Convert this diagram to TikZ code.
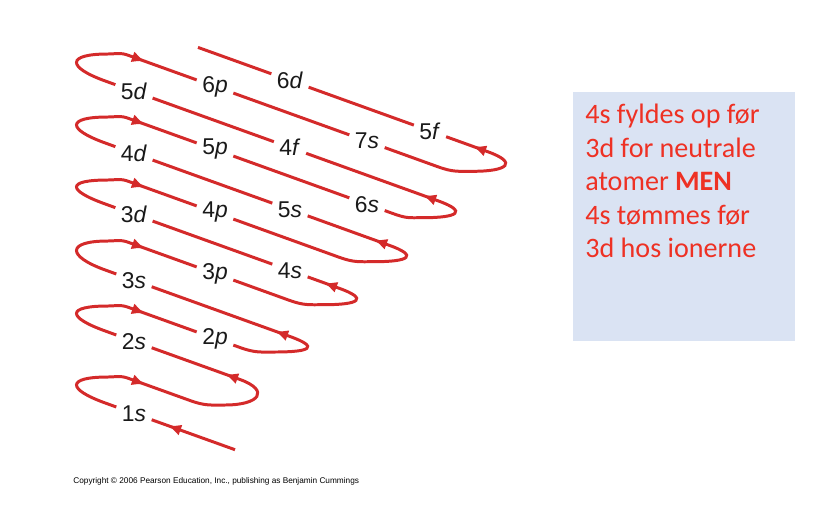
\documentclass[tikz,border=0pt]{standalone}
\usepackage{fontspec}
\setmainfont{Liberation Sans}
\newfontfamily\notefont{Carlito}
\usetikzlibrary{arrows.meta}

\definecolor{trailred}{HTML}{D42A2A}
\definecolor{notered}{HTML}{EE3124}
\definecolor{noteblue}{HTML}{DAE3F3}

\begin{document}
\begin{tikzpicture}[
  x=0.2mm, y=-0.2mm,
  orb/.style={inner sep=3pt, text=black!90, font=\fontsize{13}{14}\selectfont},
  trail/.style={draw=trailred, line width=1.7pt},
  arr/.style={trail, -{Latex[length=7.5pt,width=6.5pt]}},
  note/.style={anchor=north west, inner sep=0pt, align=left, text=notered,
    font=\notefont\fontsize{16}{19}\selectfont}
]
\useasboundingbox (0,0) rectangle (820,526);
%% ─── Orbital labels ────────────────────────────────────────────────────────
\node[orb] (s1) at (134,413.4) {1\textit{s}};
\node[orb] (s2) at (134,341.4) {2\textit{s}};
\node[orb] (p2) at (215,338.5) {2\textit{p}};
\node[orb] (s3) at (134,280.4) {3\textit{s}};
\node[orb] (p3) at (215,273.5) {3\textit{p}};
\node[orb] (s4) at (290,270.5) {4\textit{s}};
\node[orb] (d3) at (134,214.4) {3\textit{d}};
\node[orb] (p4) at (215,212.5) {4\textit{p}};
\node[orb] (s5) at (290,209.5) {5\textit{s}};
\node[orb] (d4) at (134,153.4) {4\textit{d}};
\node[orb] (p5) at (215,149.5) {5\textit{p}};
\node[orb] (s6) at (367,204.2) {6\textit{s}};
\node[orb] (f4) at (290,147.5) {4\textit{f}};
\node[orb] (d5) at (134,91.4)  {5\textit{d}};
\node[orb] (p6) at (215,86.5)  {6\textit{p}};
\node[orb] (s7) at (367,141.2) {7\textit{s}};
\node[orb] (f5) at (430,130.9) {5\textit{f}};
\node[orb] (d6) at (290,80.5)  {6\textit{d}};
%% ─── Free ends and arrow tips ──────────────────────────────────────────────
\coordinate (start) at (235,449.7);
\coordinate (stop)  at (198,47.4);
\coordinate (h0) at (168,425.6);
\coordinate (l1) at (145,384.3);
\coordinate (l2) at (145,313.3);
\coordinate (l3) at (145,248.3);
\coordinate (l4) at (145,187.3);
\coordinate (l5) at (145,124.3);
\coordinate (l6) at (145,61.3);
\coordinate (r1) at (225,374.1);
\coordinate (r2) at (275,331.1);
\coordinate (r3) at (324,282.8);
\coordinate (r4) at (374,239.8);
\coordinate (r5) at (423,195.4);
\coordinate (r6) at (473,146.4);
%% ─── Filling order ─────────────────────────────────────────────────────────
\draw[trail] (start) -- (s1);
% 1s -> 2s
\draw[trail] (s1) -- (105,402.9) .. controls +(-38,-13.7) and +(-42,0) .. (108,377) .. controls +(8,0) and +(-8,-2.9) .. (128,378.2)
  -- (190,400.5) .. controls +(15,5.4) and +(-15,0) .. (225,405) .. controls +(35,0) and +(30,10.8) .. (240,379.5) -- (s2);
% 2s -> 2p -> 3s
\draw[trail] (s2) -- (105,330.9) .. controls +(-38,-13.7) and +(-42,0) .. (108,306) .. controls +(8,0) and +(-8,-2.9) .. (128,307.2) -- (p2);
\draw[trail] (p2) -- (240,347.5) .. controls +(15,5.4) and +(-15,0) .. (275,352) .. controls +(35,0) and +(30,10.8) .. (290,336.5) -- (s3);
% 3s -> 3p -> 4s -> 3d
\draw[trail] (s3) -- (105,269.9) .. controls +(-38,-13.7) and +(-42,0) .. (108,241) .. controls +(8,0) and +(-8,-2.9) .. (128,242.2) -- (p3);
\draw[trail] (p3) -- (289,300.2) .. controls +(15,5.4) and +(-15,0) .. (324,304.7) .. controls +(35,0) and +(30,10.8) .. (339,288.2) -- (s4);
\draw[trail] (s4) -- (d3);
% 3d -> 4p -> 5s -> 4d
\draw[trail] (d3) -- (105,203.9) .. controls +(-38,-13.7) and +(-42,0) .. (108,180) .. controls +(8,0) and +(-8,-2.9) .. (128,181.2) -- (p4);
\draw[trail] (p4) -- (339,257.2) .. controls +(15,5.4) and +(-15,0) .. (374,261.7) .. controls +(35,0) and +(30,10.8) .. (389,245.2) -- (s5);
\draw[trail] (s5) -- (d4);
% 4d -> 5p -> 6s -> 4f -> 5d
\draw[trail] (d4) -- (105,142.9) .. controls +(-38,-13.7) and +(-42,0) .. (108,117) .. controls +(8,0) and +(-8,-2.9) .. (128,118.2) -- (p5);
\draw[trail] (p5) -- (s6);
\draw[trail] (s6) -- (392,213.2) .. controls +(15,5.4) and +(-15,0) .. (423,217.7) .. controls +(35,0) and +(30,10.8) .. (438,200.8) -- (f4);
\draw[trail] (f4) -- (d5);
% 5d -> 6p -> 7s -> 5f -> 6d
\draw[trail] (d5) -- (105,80.9) .. controls +(-38,-13.7) and +(-42,0) .. (108,54) .. controls +(8,0) and +(-8,-2.9) .. (128,55.2) -- (p6);
\draw[trail] (p6) -- (s7);
\draw[trail] (s7) -- (438,166.8) .. controls +(15,5.4) and +(-15,0) .. (473,171.3) .. controls +(35,0) and +(30,10.8) .. (488,151.8) -- (f5);
\draw[trail] (f5) -- (d6);
\draw[trail] (d6) -- (stop);
%% ─── Arrowheads ────────────────────────────────────────────────────────────
\draw[arr] (h0) ++(10,3.6) -- (h0);
\draw[arr] (l1) ++(-10,-3.6) -- (l1);
\draw[arr] (l2) ++(-10,-3.6) -- (l2);
\draw[arr] (l3) ++(-10,-3.6) -- (l3);
\draw[arr] (l4) ++(-10,-3.6) -- (l4);
\draw[arr] (l5) ++(-10,-3.6) -- (l5);
\draw[arr] (l6) ++(-10,-3.6) -- (l6);
\draw[arr] (r1) ++(10,3.6) -- (r1);
\draw[arr] (r2) ++(10,3.6) -- (r2);
\draw[arr] (r3) ++(10,3.6) -- (r3);
\draw[arr] (r4) ++(10,3.6) -- (r4);
\draw[arr] (r5) ++(10,3.6) -- (r5);
\draw[arr] (r6) ++(10,3.6) -- (r6);
%% ─── Note box ──────────────────────────────────────────────────────────────
\fill[noteblue] (573,92) rectangle (795,341);
\node[note] (note) at (585,104) {4s fyldes op før\\3d for neutrale\\atomer \textbf{MEN}\\4s tømmes før\\3d hos ionerne};
\node[anchor=west, inner sep=0pt, font=\fontsize{4.7}{5}\selectfont] (copy) at (73,481)
  {Copyright © 2006 Pearson Education, Inc., publishing as Benjamin Cummings};
\end{tikzpicture}
\end{document}
